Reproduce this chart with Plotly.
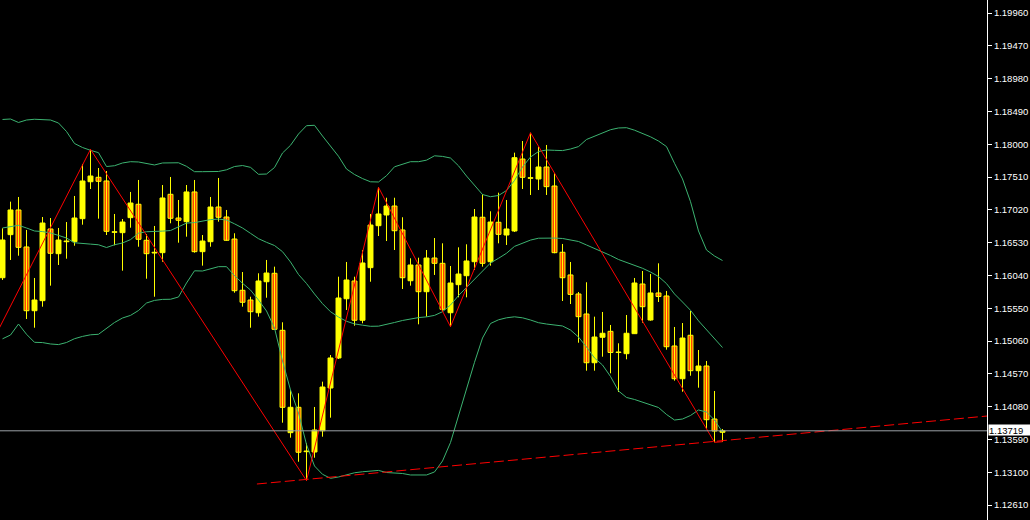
import plotly.graph_objects as go

# ---------------- data ----------------
opens = [1.16006,1.16649,1.17018,1.16465,1.15513,1.15663,1.16734,1.16365,1.16544,1.16544,
         1.16888,1.17440,1.17506,1.17451,1.16684,1.16679,1.16903,1.17103,1.16565,1.16375,
         1.16380,1.17252,1.16898,1.16843,1.17287,1.16395,1.16544,1.17062,1.16913,1.16584,
         1.15818,1.15673,1.15483,1.15946,1.16072,1.15220,1.13691,1.14070,1.13407,1.13402,
         1.13720,1.14358,1.14807,1.15692,1.15957,1.15370,1.16156,1.16783,1.16943,1.17077,
         1.16719,1.15961,1.16196,1.15797,1.16300,1.16221,1.15483,1.15902,1.16036,1.16245,
         1.16909,1.16245,1.16834,1.16644,1.16704,1.17779,1.17491,1.17481,1.17660,1.17376,
         1.16386,1.16047,1.15763,1.15464,1.14736,1.15116,1.15205,1.14889,1.14871,1.15170,
         1.15912,1.15374,1.15778,1.15733,1.14986,1.14497,1.15146,1.14617,1.14687,1.13895,
         1.13697]
highs = [1.16744,1.17142,1.17212,1.16719,1.16002,1.16913,1.16898,1.16749,1.16838,1.17227,
         1.17705,1.17924,1.17645,1.17600,1.16958,1.16883,1.17287,1.17466,1.16659,1.16779,
         1.17391,1.17511,1.17167,1.17391,1.17466,1.16644,1.17212,1.17496,1.17018,1.16670,
         1.16091,1.15722,1.16072,1.16271,1.16171,1.15340,1.14329,1.14279,1.13532,1.14075,
         1.14453,1.14851,1.16021,1.16241,1.16021,1.16420,1.16958,1.17357,1.17201,1.17201,
         1.16909,1.16296,1.16305,1.16420,1.16599,1.16520,1.16181,1.16460,1.16505,1.17032,
         1.17252,1.16998,1.17276,1.17167,1.17874,1.18048,1.18172,1.17963,1.17989,1.17566,
         1.16510,1.16241,1.15793,1.15938,1.15424,1.15494,1.15300,1.15026,1.15449,1.16002,
         1.16106,1.16061,1.16221,1.15808,1.15270,1.15329,1.15509,1.14926,1.14762,1.14314,
         1.13746]
lows = [1.15972,1.16271,1.16335,1.15389,1.15259,1.15573,1.15887,1.16196,1.16290,1.16484,
        1.16798,1.17331,1.16888,1.16644,1.16490,1.16111,1.16753,1.16469,1.15991,1.15722,
        1.16245,1.16819,1.16529,1.16619,1.16380,1.16186,1.16469,1.16843,1.16559,1.15782,
        1.15573,1.15259,1.15424,1.15707,1.15225,1.13840,1.13616,1.13257,1.12974,1.13317,
        1.13631,1.13915,1.14792,1.15524,1.15289,1.15325,1.15946,1.16629,1.16554,1.16420,
        1.15837,1.15887,1.15310,1.15424,1.16047,1.15498,1.15274,1.15713,1.15713,1.16121,
        1.16171,1.16186,1.16520,1.16495,1.16689,1.17331,1.17242,1.17316,1.17242,1.16371,
        1.15658,1.15613,1.15035,1.14617,1.14617,1.14826,1.14578,1.14299,1.14787,1.15170,
        1.15334,1.15364,1.15643,1.14931,1.14468,1.14303,1.14542,1.14363,1.13750,1.13547,
        1.13556]
closes = [1.16569,1.17018,1.16460,1.15513,1.15673,1.16823,1.16371,1.16569,1.16554,1.16898,
          1.17451,1.17525,1.17446,1.16699,1.16693,1.16838,1.17122,1.16580,1.16365,1.16386,
          1.17197,1.16894,1.16864,1.17287,1.16395,1.16554,1.17062,1.16909,1.16565,1.15812,
          1.15639,1.15498,1.15957,1.16076,1.15235,1.14070,1.14070,1.13398,1.13417,1.13731,
          1.14373,1.14807,1.15703,1.15972,1.15370,1.16226,1.16793,1.16958,1.17077,1.16708,
          1.16006,1.16196,1.15797,1.16300,1.16221,1.15534,1.15927,1.16061,1.16256,1.16913,
          1.16221,1.16838,1.16654,1.16734,1.17799,1.17506,1.17500,1.17660,1.17366,1.16380,
          1.16006,1.15757,1.15424,1.14736,1.15120,1.15176,1.14889,1.14896,1.15176,1.15927,
          1.15573,1.15778,1.15725,1.14975,1.14497,1.15105,1.14617,1.14687,1.13885,1.13716,
          1.13719]

bb_upper = [1.18370,1.18377,1.18325,1.18362,1.18373,1.18368,1.18362,1.18317,1.18190,1.18011,
            1.17951,1.17909,1.17874,1.17667,1.17679,1.17720,1.17739,1.17735,1.17708,1.17690,
            1.17720,1.17724,1.17723,1.17670,1.17590,1.17590,1.17590,1.17593,1.17618,1.17667,
            1.17682,1.17655,1.17551,1.17555,1.17652,1.17869,1.17984,1.18153,1.18277,1.18283,
            1.18123,1.17974,1.17820,1.17630,1.17548,1.17487,1.17439,1.17436,1.17530,1.17663,
            1.17696,1.17739,1.17739,1.17762,1.17827,1.17818,1.17794,1.17678,1.17525,1.17384,
            1.17249,1.17216,1.17234,1.17309,1.17458,1.17660,1.17809,1.17891,1.17914,1.17909,
            1.17905,1.17929,1.17965,1.18071,1.18119,1.18165,1.18217,1.18243,1.18247,1.18210,
            1.18165,1.18111,1.18048,1.17965,1.17715,1.17481,1.17142,1.16704,1.16420,1.16330,
            1.16263]
bb_middle = [1.16749,1.16770,1.16789,1.16749,1.16704,1.16695,1.16674,1.16638,1.16599,1.16528,
             1.16513,1.16508,1.16498,1.16457,1.16498,1.16525,1.16575,1.16671,1.16693,1.16693,
             1.16702,1.16711,1.16767,1.16822,1.16829,1.16849,1.16874,1.16882,1.16868,1.16811,
             1.16749,1.16669,1.16589,1.16535,1.16487,1.16395,1.16241,1.16054,1.15920,1.15763,
             1.15618,1.15498,1.15419,1.15355,1.15316,1.15297,1.15280,1.15282,1.15304,1.15337,
             1.15367,1.15392,1.15410,1.15421,1.15443,1.15498,1.15598,1.15739,1.15863,1.15987,
             1.16114,1.16226,1.16296,1.16371,1.16474,1.16525,1.16568,1.16596,1.16601,1.16598,
             1.16592,1.16569,1.16547,1.16495,1.16442,1.16401,1.16338,1.16278,1.16233,1.16193,
             1.16147,1.16091,1.16024,1.15918,1.15763,1.15643,1.15519,1.15362,1.15231,1.15098,
             1.14963]
bb_lower = [1.15093,1.15150,1.15314,1.15161,1.15041,1.15037,1.15016,1.15007,1.15038,1.15095,
            1.15129,1.15153,1.15161,1.15243,1.15337,1.15404,1.15443,1.15516,1.15628,1.15667,
            1.15682,1.15684,1.15718,1.15927,1.16109,1.16106,1.16142,1.16171,1.16171,1.16036,
            1.15923,1.15822,1.15673,1.15509,1.15255,1.14762,1.14329,1.13985,1.13514,1.13193,
            1.13069,1.13009,1.13029,1.13065,1.13092,1.13107,1.13121,1.13127,1.13096,1.13089,
            1.13081,1.13059,1.13059,1.13059,1.13104,1.13268,1.13544,1.13945,1.14343,1.14742,
            1.15105,1.15322,1.15377,1.15407,1.15422,1.15407,1.15374,1.15334,1.15314,1.15303,
            1.15285,1.15225,1.15120,1.14971,1.14807,1.14702,1.14530,1.14314,1.14217,1.14187,
            1.14146,1.14110,1.14067,1.13963,1.13880,1.13895,1.13948,1.14030,1.13999,1.13880,
            1.13701]

# zigzag pivots: starting point (off the left edge), then candle index + high/low
zz_start_x = -1
zz_start_price = 1.15113
zz_pivots = [11, 38, 47, 56, 66, 89, 90]
zz_kinds = ["H", "L", "H", "L", "H", "L", "L"]

# trend line end points (bar index, price)
trend_x = [31.8, 123.1]
trend_y = [1.12924, 1.13940]

bid_price = 1.13719
bid_label = "1.13719"

tick_labels = ["1.12610", "1.13100", "1.13590", "1.14080", "1.14570", "1.15060",
               "1.15550", "1.16040", "1.16530", "1.17020", "1.17510", "1.18000",
               "1.18490", "1.18980", "1.19470", "1.19960"]

# ---------------- styling ----------------
BULL = "#FFFF00"
BEAR = "#FF4500"
BAND = "#3CB371"
ZZ = "#FF0000"
FONT = "Liberation Sans"

n = len(opens)
idx = list(range(n))

fig = go.Figure()

# wicks
wx, wy = [], []
for i in idx:
    wx += [i, i, None]
    wy += [lows[i], highs[i], None]
fig.add_trace(go.Scatter(x=wx, y=wy, mode="lines",
                         line=dict(color=BULL, width=1), hoverinfo="skip"))

# bodies
base = [min(o, c) for o, c in zip(opens, closes)]
height = [abs(c - o) for o, c in zip(opens, closes)]
colors = [BULL if c >= o else BEAR for o, c in zip(opens, closes)]
fig.add_trace(go.Bar(x=idx, y=height, base=base, width=0.62,
                     marker=dict(color=colors, line=dict(color=BULL, width=1)),
                     hoverinfo="skip"))

# bollinger bands
for band in (bb_upper, bb_middle, bb_lower):
    fig.add_trace(go.Scatter(x=idx, y=band, mode="lines",
                             line=dict(color=BAND, width=1), hoverinfo="skip"))

# zigzag
zzx = [zz_start_x] + zz_pivots
zzy = [zz_start_price] + [highs[p] if k == "H" else lows[p]
                          for p, k in zip(zz_pivots, zz_kinds)]
fig.add_trace(go.Scatter(x=zzx, y=zzy, mode="lines",
                         line=dict(color=ZZ, width=1), hoverinfo="skip"))

# trend line
fig.add_trace(go.Scatter(x=trend_x, y=trend_y, mode="lines",
                         line=dict(color=ZZ, width=1, dash="10px,4px"),
                         hoverinfo="skip"))

# bid line
fig.add_hline(y=bid_price, line=dict(color="#9aa0a6", width=1))

fig.add_annotation(x=1, xref="paper", y=bid_price, yref="y", text=bid_label,
                   showarrow=False, xanchor="left", yanchor="middle", xshift=1, yshift=1,
                   bgcolor="#FFFFFF", font=dict(family=FONT, size=9.5, color="#000000"),
                   borderpad=0, width=42, height=10, align="left")

x0 = -0.3125
fig.update_layout(
    width=1030, height=520,
    margin=dict(l=0, r=43, t=0, b=0),
    paper_bgcolor="#000000", plot_bgcolor="#000000",
    showlegend=False, hovermode=False, barmode="overlay",
    xaxis=dict(range=[x0, x0 + 987 / 8], visible=False, fixedrange=True),
    yaxis=dict(range=[1.123864, 1.201547], side="right",
               tickvals=[float(t) for t in tick_labels], ticktext=tick_labels,
               ticks="outside", ticklen=4, tickcolor="#FFFFFF", tickwidth=1,
               tickfont=dict(family=FONT, size=9.5, color="#FFFFFF"),
               showgrid=False, zeroline=False, showline=True,
               linecolor="#FFFFFF", linewidth=1, fixedrange=True),
)

fig.write_html("out.html", config={"displayModeBar": False},
               post_script="document.body.style.margin='0';document.body.style.overflow='hidden';")
